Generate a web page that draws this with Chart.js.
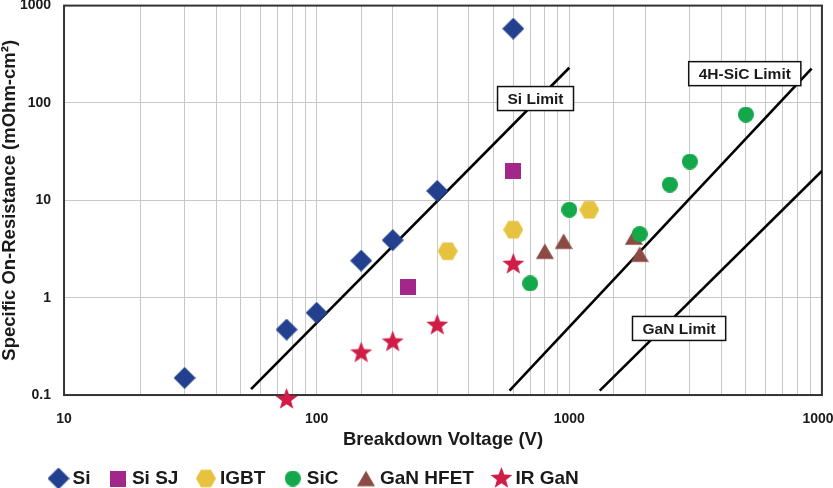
<!DOCTYPE html>
<html>
<head>
<meta charset="utf-8">
<script src="https://cdn.jsdelivr.net/npm/chart.js@4"></script>
<style>
  html, body { margin: 0; padding: 0; background: #fff; overflow: hidden; }
  /* a bit larger than the window so the tick padding on the top and right edge falls outside */
  #wrap { position: relative; top: -13px; width: 857px; height: 511px; }
</style>
</head>
<body>
<div id="wrap"><canvas id="chart"></canvas></div>
<script>
// breakdown voltage (V) / specific on-resistance (mOhm-cm2) per device family
const siV = [30, 76, 100, 150, 200, 300, 600];
const siR = [0.15, 0.47, 0.7, 2.4, 3.9, 12.5, 580];
const siSjV = [230, 600];
const siSjR = [1.3, 20];
const igbtV = [330, 600, 1200];
const igbtR = [3, 5, 8];
const sicV = [700, 1000, 1900, 2500, 3000, 5000];
const sicR = [1.4, 8, 4.5, 14.5, 25, 76];
const ganHfetV = [800, 950, 1800, 1900];
const ganHfetR = [3, 3.8, 4.2, 2.8];
const irGanV = [76, 150, 200, 300, 600];
const irGanR = [0.09, 0.27, 0.35, 0.52, 2.2];

// material limit lines, end points
const siLimitV = [55, 1000];
const siLimitR = [0.115, 230];
const sicLimitV = [580, 9100];
const sicLimitR = [0.111, 225];
const ganLimitV = [1320, 10000];
const ganLimitR = [0.111, 20];

const limitNames = ['Si Limit', '4H-SiC Limit', 'GaN Limit'];
const limitLabelV = [735, 4950, 2720];
const limitLabelR = [111, 200, 0.483];

const xMajorTicks = [10, 100, 1000, 10000];
const yTicks = [0.1, 1, 10, 100, 1000];

const FONT = '"Liberation Sans", Arial, sans-serif';
const TEXT = '#1a1a1a';

function toPoints(xs, ys) {
    return xs.map((x, i) => ({ x: x, y: ys[i] }));
}

// filled marker drawn on a small canvas, used as pointStyle
function marker(shape, color, size) {
    const c = document.createElement('canvas');
    c.width = size;
    c.height = size;
    const g = c.getContext('2d');
    const m = size / 2;
    g.fillStyle = color;
    g.beginPath();
    if (shape === 'diamond') {
        g.moveTo(m, 0); g.lineTo(size, m); g.lineTo(m, size); g.lineTo(0, m);
    } else if (shape === 'square') {
        g.rect(0, 0, size, size);
    } else if (shape === 'circle') {
        g.arc(m, m, m, 0, Math.PI * 2);
    } else if (shape === 'hexagon') {
        for (let i = 0; i < 6; i++) {
            const a = i * Math.PI / 3;
            g.lineTo(m + m * Math.cos(a), m + m * Math.sin(a));
        }
    } else if (shape === 'triangle') {
        const h = size * 0.85;
        g.moveTo(m, (size - h) / 2); g.lineTo(size, (size + h) / 2); g.lineTo(0, (size + h) / 2);
    } else if (shape === 'star') {
        for (let i = 0; i < 10; i++) {
            const r = i % 2 ? m * 0.42 : m;
            const a = -Math.PI / 2 + i * Math.PI / 5;
            g.lineTo(m + r * Math.cos(a), m + r * Math.sin(a));
        }
    }
    g.closePath();
    g.fill();
    return c;
}

function pointSet(label, xs, ys, style) {
    return {
        label: label,
        data: toPoints(xs, ys),
        pointStyle: style,
        // image markers keep their own size; radius only decides if a point near the edge is drawn
        pointRadius: 8,
        pointHoverRadius: 8,
        pointBorderWidth: 0,
        clip: false,
        order: 0
    };
}

function limitSet(label, xs, ys) {
    return {
        type: 'line',
        label: label,
        data: toPoints(xs, ys),
        showLine: true,
        borderColor: '#000',
        borderWidth: 2.6,
        pointRadius: 0,
        order: 10
    };
}

const chartDecor = {
    id: 'chartDecor',
    afterLayout(chart) {
        // legend starts a bit in from the left edge
        chart.legend.left += 31;
        chart.legend.right += 31;
    },
    beforeDatasetsDraw(chart) {
        const { ctx, chartArea: a } = chart;
        ctx.save();
        ctx.strokeStyle = '#333';
        ctx.lineWidth = 2;
        ctx.strokeRect(a.left, a.top, a.right - a.left, a.bottom - a.top);
        ctx.restore();
    },
    afterDatasetsDraw(chart) {
        const { ctx, scales } = chart;
        ctx.save();
        ctx.font = 'bold 15.5px ' + FONT;
        ctx.textAlign = 'center';
        ctx.textBaseline = 'middle';
        limitNames.forEach((name, i) => {
            const cx = scales.x.getPixelForValue(limitLabelV[i]);
            const cy = scales.y.getPixelForValue(limitLabelR[i]);
            const w = ctx.measureText(name).width + 20;
            const h = 24;
            ctx.fillStyle = '#fff';
            ctx.fillRect(cx - w / 2, cy - h / 2, w, h);
            ctx.strokeStyle = '#111';
            ctx.lineWidth = 1.5;
            ctx.strokeRect(cx - w / 2, cy - h / 2, w, h);
            ctx.fillStyle = TEXT;
            ctx.fillText(name, cx, cy + 1);
        });
        ctx.restore();
    }
};

new Chart(document.getElementById('chart'), {
    type: 'scatter',
    data: {
        datasets: [
            pointSet('Si', siV, siR, marker('diamond', '#22408e', 22)),
            pointSet('Si SJ', siSjV, siSjR, marker('square', '#a3278b', 16)),
            pointSet('IGBT', igbtV, igbtR, marker('hexagon', '#e6c23e', 20)),
            pointSet('SiC', sicV, sicR, marker('circle', '#15a84b', 16)),
            pointSet('GaN HFET', ganHfetV, ganHfetR, marker('triangle', '#8b4b44', 18)),
            pointSet('IR GaN', irGanV, irGanR, marker('star', '#cf1d46', 23)),
            limitSet('Si Limit', siLimitV, siLimitR),
            limitSet('4H-SiC Limit', sicLimitV, sicLimitR),
            limitSet('GaN Limit', ganLimitV, ganLimitR)
        ]
    },
    options: {
        responsive: true,
        maintainAspectRatio: false,
        animation: false,
        layout: { padding: 0, autoPadding: false },
        plugins: {
            tooltip: { enabled: false },
            legend: {
                position: 'bottom',
                align: 'start',
                labels: {
                    usePointStyle: true,
                    boxWidth: 9,
                    boxHeight: 19,
                    padding: 23,
                    color: TEXT,
                    font: { family: FONT, size: 19, weight: 'bold' },
                    filter: item => item.datasetIndex < 6
                }
            }
        },
        scales: {
            x: {
                type: 'logarithmic',
                min: 10,
                max: 10000,
                grid: { color: '#c8c8c8', drawTicks: false },
                border: { display: false },
                ticks: {
                    autoSkip: false,
                    maxRotation: 0,
                    padding: 15.6,
                    color: TEXT,
                    font: { family: FONT, size: 14, weight: 'bold' },
                    callback: v => xMajorTicks.includes(Math.round(v)) ? String(Math.round(v)) : ''
                },
                title: {
                    display: true,
                    text: 'Breakdown Voltage (V)',
                    color: TEXT,
                    font: { family: FONT, size: 18.5, weight: 'bold', lineHeight: 0.16 },
                    padding: { top: -4.5, bottom: 4.5 }
                }
            },
            y: {
                type: 'logarithmic',
                min: 0.1,
                max: 1000,
                afterBuildTicks: scale => {
                    scale.ticks = yTicks.map(v => ({ value: v }));
                },
                grid: { color: '#c8c8c8', drawTicks: false },
                border: { display: false },
                ticks: {
                    padding: 13,
                    color: TEXT,
                    font: { family: FONT, size: 14, weight: 'bold', lineHeight: 0.8 },
                    callback: v => String(v)
                },
                title: {
                    display: true,
                    text: 'Specific On-Resistance (mOhm-cm²)',
                    color: TEXT,
                    font: { family: FONT, size: 18.5, weight: 'bold', lineHeight: 0.108 },
                    padding: { top: 9, bottom: -4.1 }
                }
            }
        }
    },
    plugins: [chartDecor]
});
</script>
</body>
</html>
